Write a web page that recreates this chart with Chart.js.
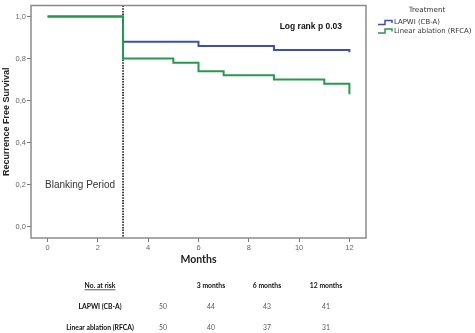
<!DOCTYPE html>
<html>
<head>
<meta charset="utf-8">
<title>Recurrence Free Survival</title>
<script src="https://cdn.jsdelivr.net/npm/chart.js@4"></script>
<style>
  html, body { margin:0; padding:0; background:#fff; }
  #wrap { width:475px; height:333px; position:relative; }
</style>
</head>
<body>
<div id="wrap"><canvas id="kmChart"></canvas></div>
<script>
// Kaplan-Meier steps (month, survival)
const lapwiMonths = [0, 3, 6, 9, 12];
const lapwiSurv   = [1.0, 0.88, 0.86, 0.84, 0.83];
const rfcaMonths  = [0, 3, 5, 6, 7, 9, 11, 12];
const rfcaSurv    = [1.0, 0.80, 0.78, 0.74, 0.72, 0.70, 0.68, 0.63];

const seriesNames = ['LAPWI (CB-A)', 'Linear ablation (RFCA)'];
const seriesColors = ['#3d50b2', '#25994e'];

const xTicks = [0, 2, 4, 6, 8, 10, 12];
const yTicks = [0, 0.2, 0.4, 0.6, 0.8, 1.0];
const yTickLabels = ['0,0', '0,2', '0,4', '0,6', '0,8', '1,0'];

const blankingEnd = 3;

// number at risk table
const riskHeaders = ['3 months', '6 months', '12 months'];
const riskLapwi = [50, 44, 43, 41];
const riskRfca  = [50, 40, 37, 31];

function toPoints(xs, ys){ return xs.map((x,i) => ({x:x, y:ys[i]})); }

// frame, blanking line, annotations, legend and at-risk table
const extras = {
  id: 'extras',
  beforeDatasetsDraw(chart){
    const {ctx, chartArea:a, scales} = chart;
    const xb = scales.x.getPixelForValue(blankingEnd);
    ctx.save();
    ctx.strokeStyle = '#111';
    ctx.lineWidth = 1.6;
    ctx.setLineDash([1.5, 1.2]);
    ctx.beginPath(); ctx.moveTo(xb, a.top); ctx.lineTo(xb, a.bottom); ctx.stroke();
    ctx.restore();
  },
  afterDraw(chart){
    const {ctx, chartArea:a, scales} = chart;
    ctx.save();
    // box
    ctx.strokeStyle = '#8a8a8a';
    ctx.lineWidth = 1.5;
    ctx.strokeRect(a.left, a.top, a.right - a.left, a.bottom - a.top);

    ctx.textBaseline = 'middle';
    ctx.fillStyle = '#333';
    ctx.font = '10px "Liberation Sans", sans-serif';
    ctx.textAlign = 'left';
    ctx.fillText('Blanking Period', a.left + 14, scales.y.getPixelForValue(0.2));

    ctx.fillStyle = '#111';
    ctx.font = 'bold 8.5px "Liberation Sans", sans-serif';
    ctx.textAlign = 'right';
    ctx.fillText('Log rank p 0.03', a.right - 24, a.top + 21);

    // legend
    const lx = 378, ly = [22.5, 31];
    ctx.fillStyle = '#333';
    ctx.font = '7.2px "DejaVu Sans", sans-serif';
    ctx.textAlign = 'center';
    ctx.fillText('Treatment', 427, 10.5);
    ctx.font = '6.9px "DejaVu Sans", sans-serif';
    ctx.textAlign = 'left';
    seriesNames.forEach((name, i) => {
      const y = ly[i];
      ctx.strokeStyle = seriesColors[i];
      ctx.lineWidth = 1.5;
      ctx.beginPath();
      ctx.moveTo(lx, y + 2); ctx.lineTo(lx + 7, y + 2); ctx.lineTo(lx + 7, y - 2);
      ctx.lineTo(lx + 14, y - 2); ctx.lineTo(lx + 14, y + 0.5);
      ctx.stroke();
      ctx.fillStyle = '#333';
      ctx.fillText(name, lx + 16, y);
    });

    // number at risk
    const colX = [163, 211, 267, 326];
    const rowY = [285.5, 306.5, 328];
    ctx.fillStyle = '#111';
    ctx.font = 'bold 6.8px Lato, sans-serif';
    ctx.textAlign = 'center';
    ctx.fillText('No. at risk', 100, rowY[0]);
    const w = ctx.measureText('No. at risk').width;
    ctx.fillRect(100 - w/2, rowY[0] + 4, w, 0.7);
    riskHeaders.forEach((h, i) => ctx.fillText(h, colX[i+1], rowY[0]));
    ctx.fillText(seriesNames[0], 100, rowY[1]);
    ctx.fillText(seriesNames[1], 100, rowY[2]);
    ctx.font = '6.8px Lato, sans-serif';
    ctx.fillStyle = '#555';
    riskLapwi.forEach((v, i) => ctx.fillText(String(v), colX[i], rowY[1]));
    riskRfca.forEach((v, i) => ctx.fillText(String(v), colX[i], rowY[2]));
    ctx.restore();
  }
};

new Chart(document.getElementById('kmChart'), {
  type: 'line',
  data: {
    datasets: [
      { label: seriesNames[0], data: toPoints(lapwiMonths, lapwiSurv), borderColor: seriesColors[0],
        borderWidth: 2, stepped: 'before', pointRadius: 0, order: 1 },
      { label: seriesNames[1], data: toPoints(rfcaMonths, rfcaSurv), borderColor: seriesColors[1],
        borderWidth: 2, stepped: 'before', pointRadius: 0, order: 0 }
    ]
  },
  options: {
    responsive: true,
    maintainAspectRatio: false,
    animation: false,
    layout: { padding: { top: 3, right: 109, left: 0, bottom: 67 } },
    plugins: { legend: { display: false }, tooltip: { enabled: false } },
    scales: {
      x: {
        type: 'linear', min: -0.66, max: 12.66,
        afterBuildTicks: s => { s.ticks = xTicks.map(v => ({value: v})); },
        afterFit: s => { s.height = 28; },
        grid: { drawOnChartArea: false, drawTicks: true, tickLength: 4, color: '#777', lineWidth: 1 },
        border: { display: false },
        ticks: { color: '#666', font: { family: 'Liberation Sans', size: 7.5 }, padding: 1, maxRotation: 0 },
        title: { display: true, text: 'Months', color: '#222', font: { family: 'Lato', size: 10.5, weight: 'bold' },
          padding: { top: 4, bottom: 0 } }
      },
      y: {
        min: -0.053, max: 1.052,
        afterBuildTicks: s => { s.ticks = yTicks.map(v => ({value: v})); },
        afterFit: s => { s.width = 31; },
        grid: { drawOnChartArea: false, drawTicks: true, tickLength: 4, color: '#777', lineWidth: 1 },
        border: { display: false },
        ticks: { color: '#666', font: { family: 'Liberation Sans', size: 7.5 }, padding: 1,
          callback: (v, i) => yTickLabels[yTicks.indexOf(v)] },
        title: { display: true, text: 'Recurrence Free Survival', color: '#222',
          font: { family: 'Liberation Sans', size: 9, weight: 'bold' }, padding: { top: 1, bottom: 0 } }
      }
    }
  },
  plugins: [extras]
});
</script>
</body>
</html>
